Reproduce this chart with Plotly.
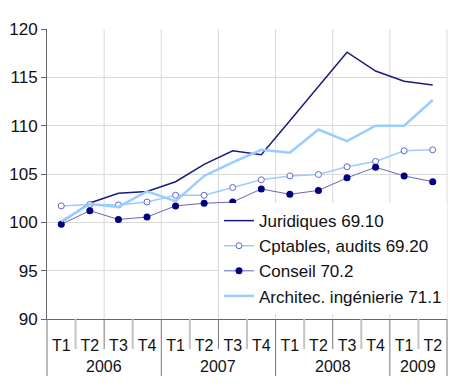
import plotly.graph_objects as go

years = ["2006"] * 4 + ["2007"] * 4 + ["2008"] * 4 + ["2009"] * 2
quarters = ["T1", "T2", "T3", "T4"] * 3 + ["T1", "T2"]

juridiques = [100.0, 102.0, 103.0, 103.2, 104.2, 106.0, 107.4, 107.0, 110.5, 114.0, 117.6, 115.65, 114.6, 114.2]
cptables = [101.7, 101.85, 101.8, 102.1, 102.8, 102.8, 103.6, 104.4, 104.8, 104.95, 105.75, 106.3, 107.4, 107.5]
conseil = [99.8, 101.2, 100.3, 100.55, 101.7, 101.97, 102.1, 103.45, 102.9, 103.3, 104.6, 105.7, 104.8, 104.2]
architec = [100.1, 101.9, 101.6, 103.2, 102.2, 104.8, 106.2, 107.5, 107.2, 109.6, 108.4, 110.0, 110.0, 112.65]

names = ["Juridiques 69.10", "Cptables, audits 69.20", "Conseil 70.2", "Architec. ingénierie 71.1"]

cats = [f"{q} {y}" for q, y in zip(quarters, years)]
n = len(cats)

fig = go.Figure()
fig.add_trace(go.Scatter(x=cats, y=juridiques, name=names[0], mode="lines",
                         line=dict(color="#1a1a80", width=1.5)))
fig.add_trace(go.Scatter(x=cats, y=cptables, name=names[1], mode="lines+markers",
                         line=dict(color="#99ccff", width=1.5),
                         marker=dict(symbol="circle", size=6, color="white",
                                     line=dict(color="#6666cc", width=1))))
fig.add_trace(go.Scatter(x=cats, y=conseil, name=names[2], mode="lines+markers",
                         line=dict(color="#6666bb", width=1),
                         marker=dict(symbol="circle", size=7, color="#000080")))
fig.add_trace(go.Scatter(x=cats, y=architec, name=names[3], mode="lines",
                         line=dict(color="#99ccff", width=2.5)))

PH = 290.0  # plot height in px
shapes = []
# vertical gridlines every two quarters
for k in range(2, n + 1, 2):
    shapes.append(dict(type="line", xref="paper", yref="paper", x0=k / n, x1=k / n, y0=0, y1=1,
                       line=dict(color="#d9d9d9", width=1), layer="below"))
# separators below the axis
year_bounds = [0]
for i in range(1, n):
    if years[i] != years[i - 1]:
        year_bounds.append(i)
year_bounds.append(n)
for k in range(0, n + 1):
    if k in year_bounds:
        shapes.append(dict(type="line", xref="paper", yref="paper", x0=k / n, x1=k / n,
                           y0=0, y1=-57 / PH, line=dict(color="#777777", width=1)))
    else:
        col = "#777777" if k % 2 == 0 else "#c4c4c4"
        w = 1 if k % 2 == 0 else 2
        shapes.append(dict(type="line", xref="paper", yref="paper", x0=k / n, x1=k / n,
                           y0=0, y1=-30 / PH, line=dict(color=col, width=w)))

annotations = []
for a, b in zip(year_bounds[:-1], year_bounds[1:]):
    annotations.append(dict(text=years[a], xref="paper", yref="paper", x=(a + b) / 2 / n,
                            y=-47 / PH, xanchor="center", yanchor="middle", showarrow=False,
                            font=dict(size=16, color="#111111")))

fig.update_layout(
    width=450, height=388,
    margin=dict(l=47, r=3, t=29, b=69),
    paper_bgcolor="white", plot_bgcolor="white",
    font=dict(family="Liberation Sans, Arial, sans-serif", size=16, color="#111111"),
    showlegend=True,
    legend=dict(x=1, xanchor="right", y=0.017, yanchor="bottom", bgcolor="white",
                font=dict(size=17), itemwidth=30, tracegroupgap=0, borderwidth=0,
                traceorder="normal"),
    xaxis=dict(type="category", range=[-0.5, n - 0.5], tickvals=cats, ticktext=quarters,
               showgrid=False, showline=True, linecolor="#666666", linewidth=1,
               ticks="outside", ticklen=12, tickcolor="rgba(0,0,0,0)",
               tickfont=dict(size=16), automargin=False, tickangle=0),
    yaxis=dict(range=[90, 120], dtick=5, showgrid=True, gridcolor="#d9d9d9",
               showline=True, linecolor="#666666", ticks="outside", ticklen=5,
               tickcolor="#666666", tickfont=dict(size=17), zeroline=False, automargin=False),
    shapes=shapes,
    annotations=annotations,
)

fig.write_html("out.html", config={"displayModeBar": False},
               post_script="document.body.style.margin='0';document.body.style.overflow='hidden';")
